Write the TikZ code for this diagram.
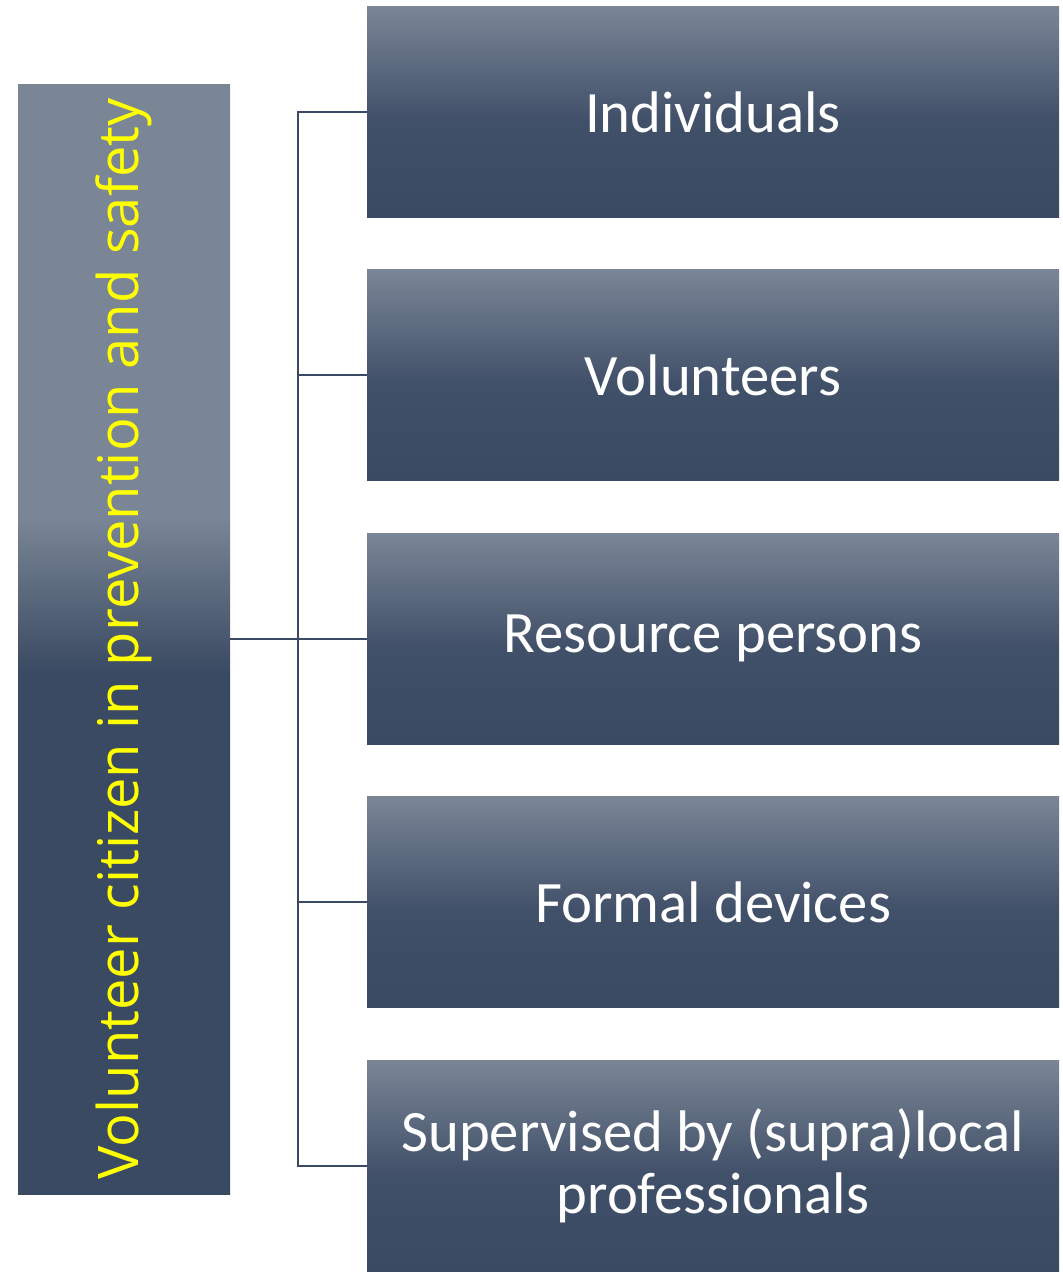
\documentclass[tikz,border=0pt]{standalone}
\usepackage{fontspec}
\setmainfont{Carlito}
\newfontfamily\rootfont{Open Sans}

\definecolor{shadeLight}{HTML}{7A8696}
\definecolor{shadeMid}{HTML}{415069}
\definecolor{shadeDark}{HTML}{3A4A62}
\definecolor{rootYellow}{HTML}{FFFF00}
\definecolor{linkGray}{HTML}{3A4A62}

% Vertical fills: the box spans 25bp (bottom) to 75bp (top).
\pgfdeclareverticalshading{itemShade}{100bp}{color(0bp)=(shadeDark); color(25bp)=(shadeDark); color(48bp)=(shadeMid); color(75bp)=(shadeLight); color(100bp)=(shadeLight)}
\pgfdeclareverticalshading{rootShade}{100bp}{color(0bp)=(shadeDark); color(25bp)=(shadeDark); color(48.5bp)=(shadeDark); color(55.5bp)=(shadeLight); color(75bp)=(shadeLight); color(100bp)=(shadeLight)}

\begin{document}
\begin{tikzpicture}[
  x=0.75pt, y=-0.75pt,
  itembox/.style={rectangle, shade, shading=itemShade, minimum width=519pt, minimum height=158.25pt, inner sep=0pt, text=white, align=center, font=\fontsize{44}{47}\selectfont},
  rootbox/.style={rectangle, shade, shading=rootShade, minimum width=159pt, minimum height=832.5pt, inner sep=0pt},
  roottext/.style={rotate=90, inner sep=0pt, text=rootYellow, font=\rootfont\fontsize{42}{46}\selectfont},
  link/.style={draw=linkGray, line width=1.6pt},
]

\useasboundingbox (0,0) rectangle (1063,1275);

\def\itemx{713}
\def\itemtop{112}
\def\itemgap{263.4}

% Left column.
\node[rootbox] (root) at (124,639) {};
\node[roottext] (rootlabel) at (root.center) {Volunteer citizen in prevention and safety};

% Right column.
\foreach \i/\txt in {1/Individuals, 2/Volunteers, 3/Resource persons, 4/Formal devices, 5/Supervised by (supra)local\\professionals} {
  \pgfmathsetmacro{\y}{\itemtop + (\i-1)*\itemgap}
  \node[itembox] (item\i) at (\itemx,\y) {\txt};
}

% Connectors.
\draw[link] (root.east) -- ++(68,0) coordinate (hub);
\foreach \i in {1,...,5} {\draw[link] (hub) |- (item\i.west);}

\end{tikzpicture}
\end{document}
